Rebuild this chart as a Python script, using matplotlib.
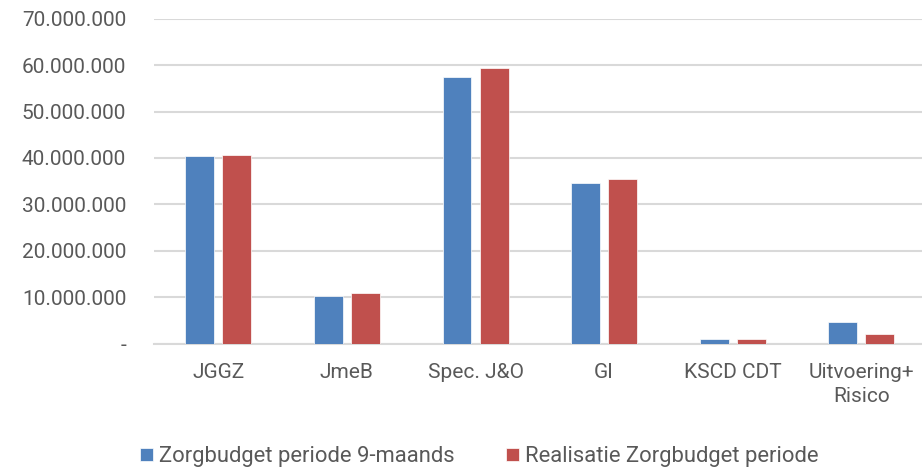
import numpy as np
import matplotlib.pyplot as plt
from matplotlib.ticker import FuncFormatter

categories = ['JGGZ', 'JmeB', 'Spec. J&O', 'GI', 'KSCD CDT', 'Uitvoering+\nRisico']
budget = [40400000, 10300000, 57500000, 34600000, 970000, 4570000]
realisatie = [40600000, 11000000, 59500000, 35400000, 970000, 1980000]
series_names = ['Zorgbudget periode 9-maands', 'Realisatie Zorgbudget periode']

plt.rcParams['font.family'] = ['Roboto', 'DejaVu Sans']
grey = '#595959'

fig = plt.figure(figsize=(9.22, 4.70), dpi=100)
ax = fig.add_axes([0.167, 0.269, 0.837, 0.691])

x = np.arange(len(categories))
w = 0.225
off = 0.144
ax.bar(x - off, budget, w, color='#4F81BD', edgecolor='white', linewidth=0.5,
       label=series_names[0], zorder=3)
ax.bar(x + off, realisatie, w, color='#C0504D', edgecolor='white', linewidth=0.5,
       label=series_names[1], zorder=3)

ax.set_xlim(-0.5, len(categories) - 0.5)
ax.set_ylim(0, 70000000)
ax.set_yticks(np.arange(0, 70000001, 10000000))

def fmt(v, pos):
    if v == 0:
        return '-'
    return f'{int(v):,}'.replace(',', '.')

ax.yaxis.set_major_formatter(FuncFormatter(fmt))
ax.set_xticks(x)
ax.set_xticklabels(categories, linespacing=1.35)
ax.tick_params(axis='both', length=0, labelsize=15, colors=grey)
ax.tick_params(axis='y', pad=20)
ax.tick_params(axis='x', pad=14)

ax.grid(axis='y', color='#D9D9D9', linewidth=1.5, zorder=0)
for s in ['top', 'right', 'left']:
    ax.spines[s].set_visible(False)
ax.spines['bottom'].set_color('#D9D9D9')
ax.spines['bottom'].set_linewidth(1.5)

fig.legend(loc='center left', bbox_to_anchor=(0.152, 0.028), ncol=2, frameon=False,
           fontsize=15.8, labelcolor=grey, handlelength=0.59, handleheight=0.59,
           handletextpad=0.27, columnspacing=2.35, borderaxespad=0, borderpad=0)

fig.savefig('out.png', dpi=100)
